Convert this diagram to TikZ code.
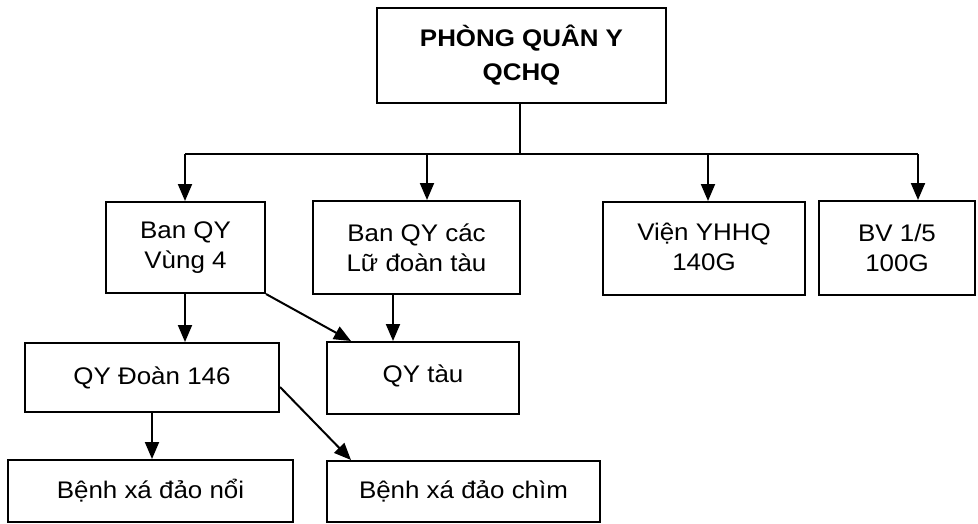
\documentclass[tikz,border=0pt]{standalone}
\usepackage{fontspec}
\setmainfont{Liberation Sans}[FakeStretch=1.08]
\usetikzlibrary{arrows.meta}
\begin{document}
\begin{tikzpicture}[x=1pt,y=-1pt,
  box/.style={draw,line width=2pt,rectangle,inner sep=0pt,align=center,
    font=\fontsize{24}{30}\selectfont},
  arr/.style={line width=2pt,-{Triangle[length=17pt,width=14pt]}},
  ln/.style={line width=2pt}]
\useasboundingbox (0,0) rectangle (978,523);
\node[box,minimum width=289pt,minimum height=95pt,font=\fontsize{24}{34}\selectfont\bfseries] (top) at (521.5,55.5) {PHÒNG QUÂN Y\\QCHQ};
\node[box,minimum width=159pt,minimum height=91pt] (b1) at (185.5,247.5) {Ban QY\\Vùng 4};
\node[box,minimum width=207pt,minimum height=93pt] (b2) at (416.5,247.5) {Ban QY các\\Lữ đoàn tàu};
\node[box,minimum width=202pt,minimum height=93pt] (b3) at (704,248.5) {\raisebox{3pt}{Viện YHHQ}\\\raisebox{3pt}{140G}};
\node[box,minimum width=156pt,minimum height=94pt] (b4) at (897,248) {BV 1/5\\100G};
\node[box,minimum width=254pt,minimum height=69pt] (d1) at (152,377.5) {\raisebox{4pt}{QY Đoàn 146}};
\node[box,minimum width=192pt,minimum height=72pt] (t1) at (423,378) {\raisebox{8pt}{QY tàu}};
\node[box,minimum width=285pt,minimum height=62pt] (e1) at (150.5,491) {Bệnh xá đảo nổi};
\node[box,minimum width=273pt,minimum height=61pt] (e2) at (463.5,491.5) {Bệnh xá đảo chìm};
\coordinate (hl) at (185,154);
\coordinate (hr) at (918,154);
\coordinate (h2) at (427,154);
\coordinate (h3) at (708,154);
\draw[ln] (top.south -| 520,0) -- (520,154);
\draw[ln] (hl) -- (hr);
\draw[arr] (hl) -- (hl |- b1.north);
\draw[arr] (h2) -- (h2 |- b2.north);
\draw[arr] (h3) -- (h3 |- b3.north);
\draw[arr] (hr) -- (hr |- b4.north);
\draw[arr] ([xshift=-0.5pt]b1.south) -- ([xshift=-0.5pt]b1.south |- d1.north);
\draw[arr] (b1.south east) -- ([xshift=25pt]t1.north west);
\draw[arr] ([xshift=-23.5pt]b2.south) -- ([xshift=-23.5pt]b2.south |- t1.north);
\draw[arr] (d1.south) -- (d1.south |- e1.north);
\draw[arr] ([yshift=-9.5pt]d1.east) -- ([xshift=25pt]e2.north west);
\end{tikzpicture}
\end{document}
